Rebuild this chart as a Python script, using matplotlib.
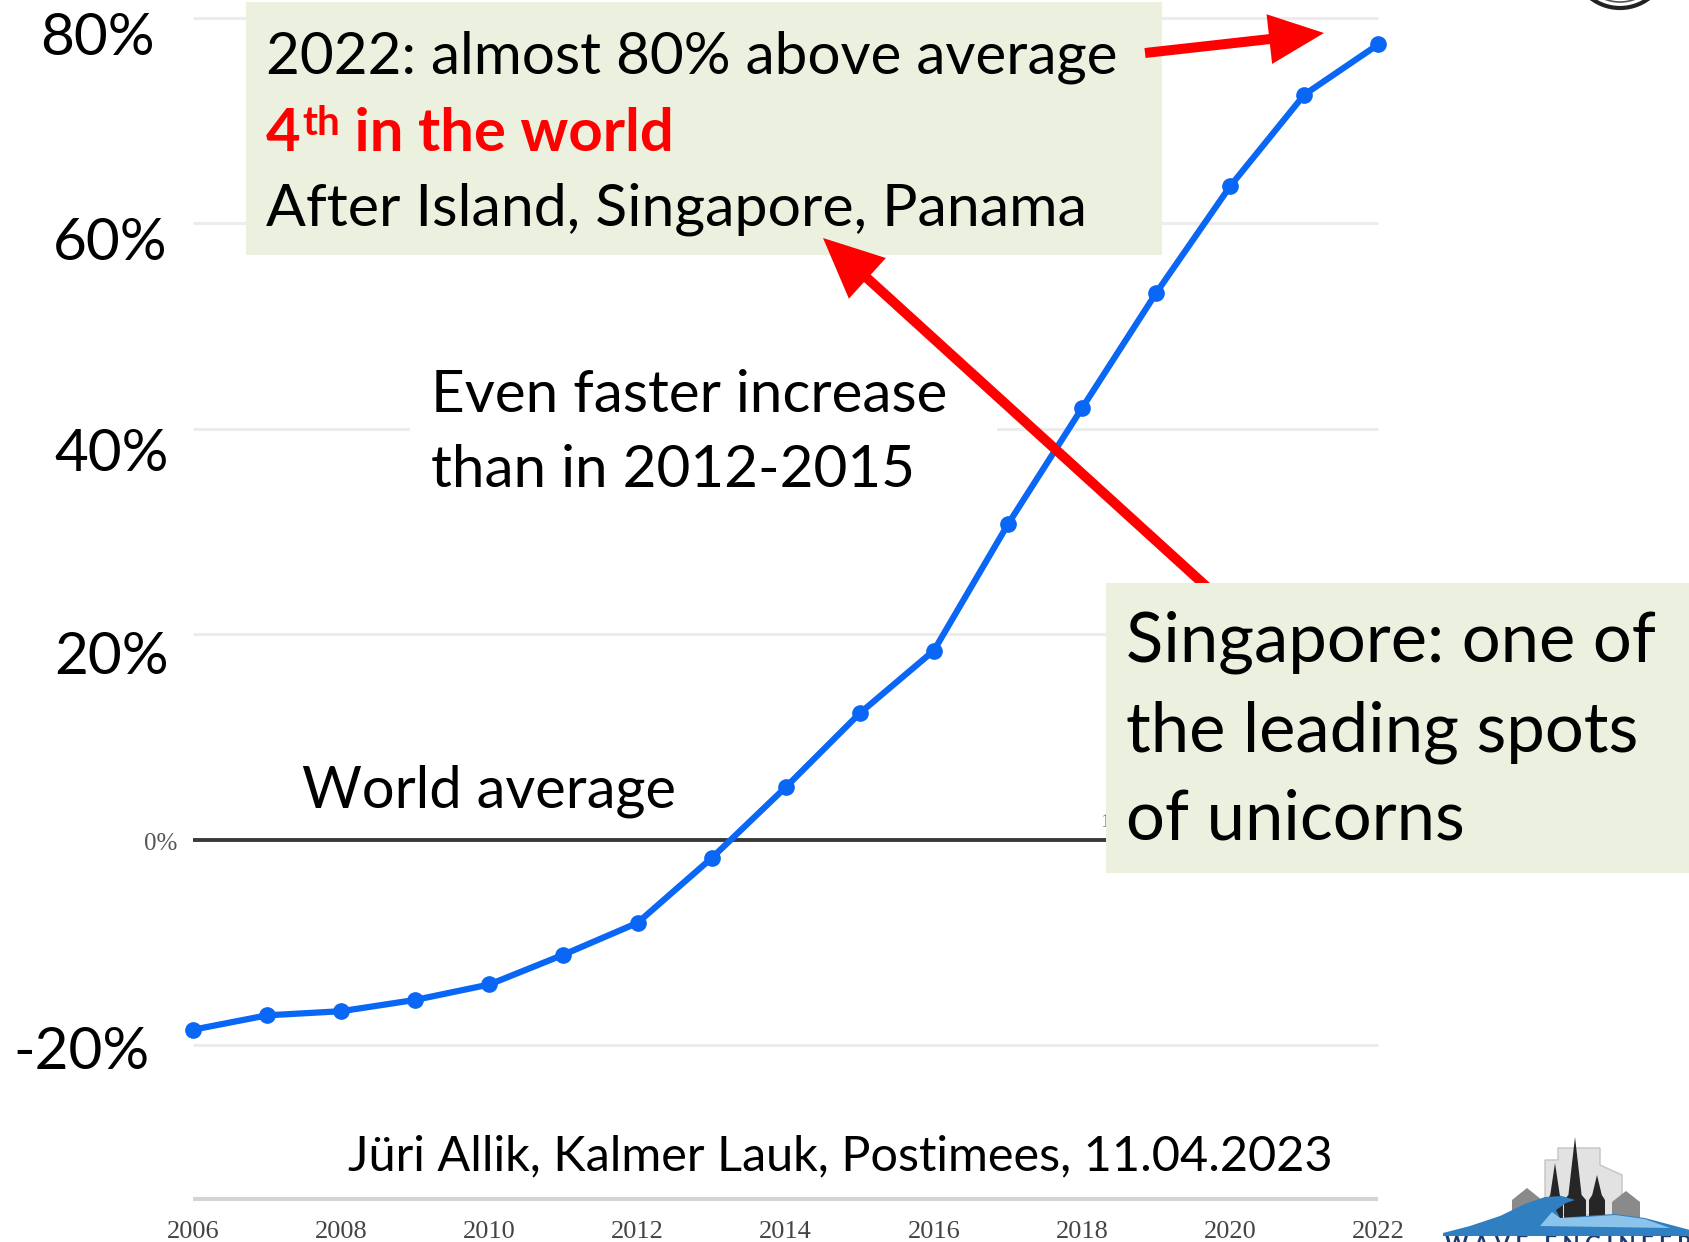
import numpy as np
import matplotlib
matplotlib.use("Agg")
import matplotlib.pyplot as plt
from matplotlib import patches, transforms

W, H = 1690, 1242

# share above world average, %
years = np.arange(2006, 2023)
above_avg = [-18.5, -17.1, -16.7, -15.6, -14.1, -11.2, -8.1, -1.8, 5.1, 12.3,
             18.4, 30.7, 42.0, 53.2, 63.6, 72.5, 77.4]

grid_levels = [80, 60, 40, 20, -20]
big_labels = ["80%", "60%", "40%", "20%", "-20%"]
tick_years = [2006, 2008, 2010, 2012, 2014, 2016, 2018, 2020, 2022]

box1_lines = ["2022: almost 80% above average", "After Island, Singapore, Panama"]
box2_lines = ["Singapore: one of", "the leading spots", "of unicorns"]
note_lines = ["Even faster increase", "than in 2012-2015"]
source = "Jüri Allik, Kalmer Lauk, Postimees, 11.04.2023"

SANS = ["Lato", "DejaVu Sans"]
SERIF = ["Liberation Serif", "DejaVu Serif"]
BOXC = "#EBF1DE"
RED = "#ff0000"

fig = plt.figure(figsize=(W / 100, H / 100), dpi=100)
ax = fig.add_axes([0, 0, 1, 1])
ax.set_xlim(2003.395, 2026.205)
ax.set_ylim(-39.16, 81.71)
ax.axis("off")

# pixel coordinates, origin at top left
px = transforms.Affine2D().scale(1 / W, -1 / H).translate(0, 1) + fig.transFigure
xd_ypx = transforms.blended_transform_factory(ax.transData, px)

# grid and axis lines
ax.hlines(grid_levels, 2006, 2022, color="#ececec", lw=2.2, zorder=1)
ax.hlines(-35, 2006, 2022, color="#d4d4d4", lw=3, zorder=1)
ax.hlines(0, 2006, 2022, color="#3a3a3a", lw=2.8, zorder=2)

# the series
ax.plot(years, above_avg, color="#0a66f5", lw=4.5, marker="o", ms=11,
        solid_capstyle="round", zorder=4)

# original chart labels (serif, small)
for yr in tick_years:
    ax.text(yr, 1238, str(yr), transform=xd_ypx, ha="center", va="baseline",
            fontsize=19, color="#444444", family=SERIF)
ax.text(177, 850, "0%", transform=px, ha="right", va="baseline",
        fontsize=18, color="#555555", family=SERIF)
ax.text(1100, 827, "1", transform=px, ha="left", va="baseline",
        fontsize=14, color="#777777", family=SERIF, zorder=1)

# large overlay y labels
label_pos = [(155, 55), (168, 260), (169, 471), (169, 674), (150, 1069)]
for lab, (x, y) in zip(big_labels, label_pos):
    ax.text(x, y, lab, transform=px, ha="right", va="baseline",
            fontsize=42, color="black", family=SANS)

# top annotation box
ax.add_patch(patches.Rectangle((246, 2), 916, 253, transform=px,
                               facecolor=BOXC, edgecolor="none", zorder=5))
ax.text(266, 73, box1_lines[0], transform=px, ha="left", va="baseline",
        fontsize=42, family=SANS, zorder=6)
t4 = ax.text(266, 151, "4", transform=px, ha="left", va="baseline",
             fontsize=43, family=SANS, weight="bold", color=RED, zorder=6)
tth = ax.annotate("th", xy=(1, 1), xycoords=t4, xytext=(2, 2),
                  textcoords="offset pixels", ha="left", va="top",
                  fontsize=29, family=SANS, weight="bold", color=RED, zorder=6)
ax.annotate(" in the world", xy=(1, 1 - 151 / H), xycoords=(tth, "figure fraction"),
            ha="left", va="baseline", fontsize=43, family=SANS, weight="bold",
            color=RED, zorder=6)
ax.text(266, 226, box1_lines[1], transform=px, ha="left", va="baseline",
        fontsize=42.5, family=SANS, zorder=6)

# note in the middle with white background
ax.add_patch(patches.Rectangle((410, 355), 587, 150, transform=px,
                               facecolor="white", edgecolor="none", zorder=1.5))
for i, line in enumerate(note_lines):
    ax.text(431, 412 + 75 * i, line, transform=px, ha="left", va="baseline",
            fontsize=42, family=SANS, zorder=6)

ax.text(302, 808, "World average", transform=px, ha="left", va="baseline",
        fontsize=41.7, family=SANS, zorder=6)

# red arrows
ax.add_patch(patches.FancyArrow(1145, 53, 1324 - 1145, 33 - 53, width=10,
                                head_width=50, head_length=55,
                                length_includes_head=True, transform=px,
                                color=RED, lw=0, zorder=7))
ax.add_patch(patches.FancyArrow(1208, 588, 823 - 1208, 238 - 588, width=10,
                                head_width=55, head_length=60,
                                length_includes_head=True, transform=px,
                                color=RED, lw=0, zorder=5.5))

# right annotation box
ax.add_patch(patches.Rectangle((1106, 583), 600, 290, transform=px,
                               facecolor=BOXC, edgecolor="none", zorder=6))
for i, line in enumerate(box2_lines):
    ax.text(1126, 662 + 89 * i, line, transform=px, ha="left", va="baseline",
            fontsize=49.5, family=SANS, zorder=7)

ax.text(348, 1170, source, transform=px, ha="left", va="baseline",
        fontsize=35, family=SANS, zorder=6)

# logo ring at top right
ax.add_patch(patches.Circle((1620, -40), 48, transform=px, facecolor="none",
                            edgecolor="#222222", lw=3, zorder=3))
ax.add_patch(patches.Circle((1620, -40), 42, transform=px, facecolor="none",
                            edgecolor="#555555", lw=1.2, zorder=3))

# wave engineering logo, bottom right
backdrop = [(1545, 1215), (1545, 1160), (1558, 1160), (1558, 1148), (1600, 1148),
            (1600, 1165), (1622, 1175), (1622, 1215)]
ax.add_patch(patches.Polygon(backdrop, closed=True, transform=px,
                             facecolor="#e2e2e2", edgecolor="#c4c4c4", lw=1, zorder=3))
for pts in [[(1512, 1228), (1512, 1200), (1527, 1188), (1542, 1200), (1542, 1228)],
            [(1612, 1228), (1612, 1202), (1626, 1191), (1640, 1202), (1640, 1228)]]:
    ax.add_patch(patches.Polygon(pts, closed=True, transform=px,
                                 facecolor="#8a8a8a", edgecolor="none", zorder=3))
spires = [(1555, 1163, 8), (1575, 1137, 11), (1597, 1175, 8)]
for sx, top, half in spires:
    pts = [(sx - half, 1228), (sx - half, 1200), (sx - half * 0.6, 1195),
           (sx, top), (sx + half * 0.6, 1195), (sx + half, 1200), (sx + half, 1228)]
    ax.add_patch(patches.Polygon(pts, closed=True, transform=px,
                                 facecolor="#262626", edgecolor="none", zorder=3.2))
wave = [(1443, 1233), (1470, 1226), (1500, 1216), (1525, 1204), (1545, 1197),
        (1562, 1196), (1575, 1200), (1566, 1203), (1556, 1210), (1560, 1218),
        (1585, 1216), (1615, 1214), (1645, 1218), (1690, 1230), (1690, 1236),
        (1443, 1236)]
ax.add_patch(patches.Polygon(wave, closed=True, transform=px,
                             facecolor="#2f7fc1", edgecolor="none", zorder=3.4))
crest = [(1540, 1226), (1552, 1212), (1560, 1218), (1585, 1217), (1615, 1215),
         (1645, 1219), (1670, 1228)]
ax.add_patch(patches.Polygon(crest, closed=True, transform=px,
                             facecolor="#8cc3ea", edgecolor="none", zorder=3.5))
ax.text(1445, 1252, "W A V E   E N G I N E E R I N G", transform=px, ha="left",
        va="baseline", fontsize=16, weight="bold", color="#1d3b6e",
        family=SANS, zorder=3)

fig.savefig("out.png", dpi=100)
